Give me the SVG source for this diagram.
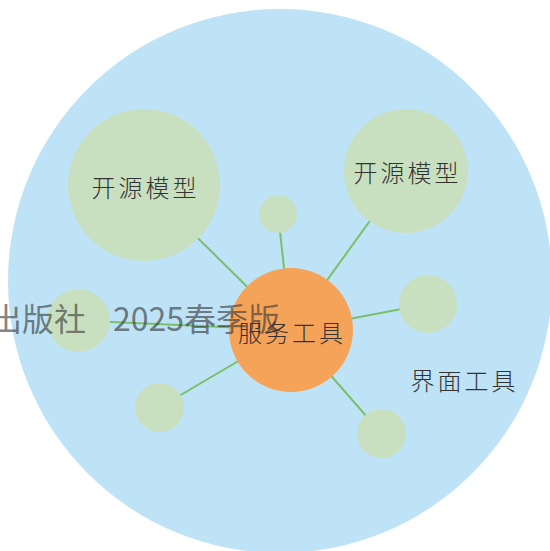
<svg xmlns="http://www.w3.org/2000/svg" width="550" height="551" viewBox="0 0 550 551">
<style>
.leaf{fill:#c8e0c0}
.lbl{font-family:"Noto Sans CJK SC","Noto Sans",sans-serif;font-size:24px;font-weight:300;letter-spacing:3px;fill:#333;text-anchor:middle;dominant-baseline:central}
.edge{stroke:#7cbf6a;stroke-width:2;fill:none}
.wm{font-family:"Noto Sans CJK SC","Noto Sans",sans-serif;font-size:32px;fill:#333;fill-opacity:0.62}
</style>
<rect width="550" height="551" fill="#fff"/>
<g id="group-bg">
<circle cx="280" cy="281" r="272" fill="#bee3f7"/>
<text class="lbl" x="464.5" y="379">界面工具</text>
</g>
<g id="connectors">
<line class="edge" x1="291" y1="330" x2="144" y2="185"/>
<line class="edge" x1="291" y1="330" x2="278" y2="214"/>
<line class="edge" x1="291" y1="330" x2="406" y2="171"/>
<line class="edge" x1="291" y1="330" x2="428" y2="304"/>
<line class="edge" x1="291" y1="330" x2="381.5" y2="433.5"/>
<line class="edge" x1="291" y1="330" x2="159.5" y2="407.5"/>
<line class="edge" x1="291" y1="330" x2="78.5" y2="320.5"/>
</g>
<g id="node-model-1">
<circle class="leaf" cx="144" cy="185" r="76"/>
<text class="lbl" x="145.5" y="186">开源模型</text>
</g>
<g id="node-model-2">
<circle class="leaf" cx="406" cy="171" r="62"/>
<text class="lbl" x="407.5" y="171">开源模型</text>
</g>
<g id="node-top"><circle class="leaf" cx="278" cy="214" r="19"/></g>
<g id="node-right"><circle class="leaf" cx="428" cy="304" r="29"/></g>
<g id="node-bottom-right"><circle class="leaf" cx="381.5" cy="433.5" r="24.5"/></g>
<g id="node-bottom-left"><circle class="leaf" cx="159.5" cy="407.5" r="24.5"/></g>
<g id="node-left"><circle class="leaf" cx="78.5" cy="320.5" r="31.5"/></g>
<g id="node-center">
<circle cx="291" cy="330" r="62" fill="#f6a35a"/>
</g>
<text class="wm" y="331"><tspan x="-10">出版社</tspan><tspan x="113">2025春季版</tspan></text>
<text class="lbl" x="292" y="331">服务工具</text>
</svg>
